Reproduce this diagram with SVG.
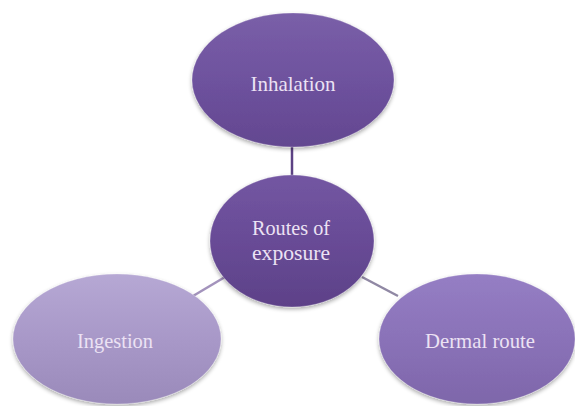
<svg xmlns="http://www.w3.org/2000/svg" width="575" height="406" viewBox="0 0 575 406">
<defs>
<linearGradient id="gDark" x1="0" y1="0" x2="0" y2="1">
<stop offset="0" stop-color="#7a5fa8"/>
<stop offset="0.5" stop-color="#6e529e"/>
<stop offset="1" stop-color="#634790"/>
</linearGradient>
<linearGradient id="gCenter" x1="0" y1="0" x2="0" y2="1">
<stop offset="0" stop-color="#7356a2"/>
<stop offset="0.5" stop-color="#684b96"/>
<stop offset="1" stop-color="#5d4188"/>
</linearGradient>
<linearGradient id="gLight" x1="0" y1="0" x2="0" y2="1">
<stop offset="0" stop-color="#b6a8d4"/>
<stop offset="0.5" stop-color="#a898c8"/>
<stop offset="1" stop-color="#9a8aba"/>
</linearGradient>
<linearGradient id="gMid" x1="0" y1="0" x2="0" y2="1">
<stop offset="0" stop-color="#957ec4"/>
<stop offset="0.5" stop-color="#8a72b8"/>
<stop offset="1" stop-color="#7e66aa"/>
</linearGradient>
<filter id="sh" x="-10%" y="-10%" width="120%" height="125%">
<feGaussianBlur in="SourceAlpha" stdDeviation="2"/>
<feOffset dx="0" dy="2" result="b"/>
<feComponentTransfer><feFuncA type="linear" slope="0.35"/></feComponentTransfer>
<feMerge><feMergeNode/><feMergeNode in="SourceGraphic"/></feMerge>
</filter>
</defs>
<style>
text{font-family:"Liberation Serif","Times New Roman",serif;font-size:21px;fill:#ece2f4;text-anchor:middle}
.node ellipse{filter:url(#sh);stroke:#ffffff;stroke-opacity:0.25;stroke-width:1}
.conn line{stroke-width:2.5}
</style>
<rect width="575" height="406" fill="#ffffff"/>
<g id="connectors" class="conn">
<line x1="292" y1="145" x2="292" y2="177" stroke="#5c4284"/>
<line x1="225" y1="277" x2="193" y2="296" stroke="#a393bc"/>
<line x1="362" y1="277" x2="398" y2="296" stroke="#9088a4"/>
</g>
<g id="inhalation" class="node">
<ellipse cx="293" cy="80" rx="101" ry="67" fill="url(#gDark)"/>
<text x="293" y="91" textLength="85" lengthAdjust="spacingAndGlyphs">Inhalation</text>
</g>
<g id="routes" class="node">
<ellipse cx="292" cy="241" rx="82" ry="66" fill="url(#gCenter)"/>
<text x="291" y="235" textLength="78" lengthAdjust="spacingAndGlyphs">Routes of</text>
<text x="291" y="260" textLength="78" lengthAdjust="spacingAndGlyphs">exposure</text>
</g>
<g id="ingestion" class="node">
<ellipse cx="117" cy="339" rx="104" ry="65" fill="url(#gLight)"/>
<text x="115" y="348" textLength="76" lengthAdjust="spacingAndGlyphs">Ingestion</text>
</g>
<g id="dermal" class="node">
<ellipse cx="477" cy="339" rx="98" ry="65" fill="url(#gMid)"/>
<text x="480" y="348" textLength="110" lengthAdjust="spacingAndGlyphs">Dermal route</text>
</g>
</svg>
